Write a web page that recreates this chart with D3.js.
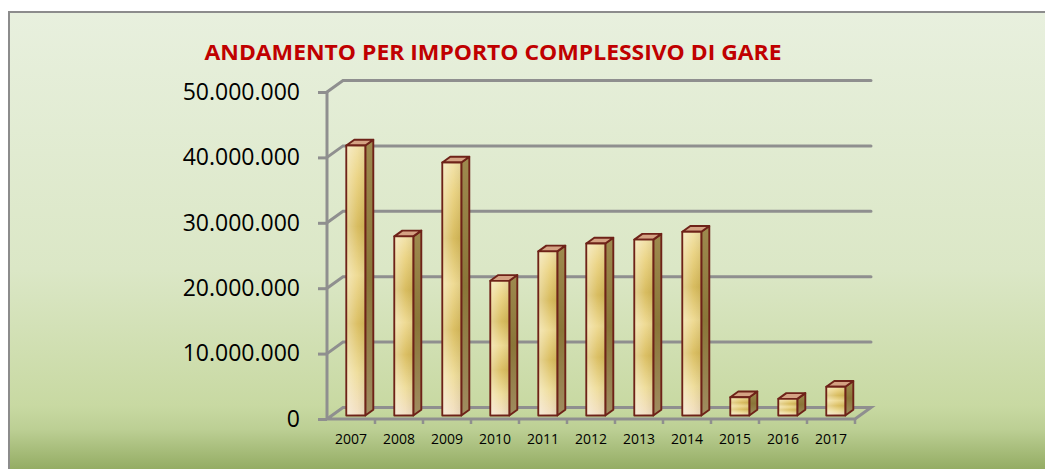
<!DOCTYPE html>
<html>
<head>
<meta charset="utf-8">
<script src="https://cdn.jsdelivr.net/npm/d3@7"></script>
<style>
  body { margin: 0; background: #fff; }
  svg { display: block; font-family: "Open Sans", sans-serif; }
</style>
</head>
<body>
<svg width="1045" height="469"></svg>
<script>
// data
const years = ["2007","2008","2009","2010","2011","2012","2013","2014","2015","2016","2017"];
const importi = [41300000, 27400000, 38700000, 20600000, 25100000, 26300000, 26900000, 28100000, 2800000, 2550000, 4400000];
const yTicks = [0, 10000000, 20000000, 30000000, 40000000, 50000000];
const titolo = "ANDAMENTO PER IMPORTO COMPLESSIVO DI GARE";

let svg = d3.select("svg");
let width = +svg.attr("width");
let height = +svg.attr("height");

// 3d depth of the plot box
const depthX = 16, depthY = -11.5;
const barF0 = 0.3, barF1 = 0.8;   // bar front / back plane as fraction of depth

const it = d3.formatLocale({decimal: ",", thousands: ".", grouping: [3], currency: ["", "€"]});
const fmt = it.format(",d");

const x = d3.scaleBand().domain(years).range([327, 855]).padding(0);
const y = d3.scaleLinear().domain([0, 50000000]).range([419, 92]);

const defs = svg.append("defs");
let bg = defs.append("linearGradient").attr("id", "bg").attr("x1", 0).attr("y1", 0).attr("x2", 0).attr("y2", 1);
bg.append("stop").attr("offset", "0%").attr("stop-color", "#e8f0de");
bg.append("stop").attr("offset", "55%").attr("stop-color", "#dbe7c6");
bg.append("stop").attr("offset", "84%").attr("stop-color", "#c8d9a2");
bg.append("stop").attr("offset", "89%").attr("stop-color", "#bccf94");
bg.append("stop").attr("offset", "100%").attr("stop-color", "#88a255");

let gold = defs.append("linearGradient").attr("id", "gold").attr("x1", 0).attr("y1", 0).attr("x2", 0).attr("y2", 1);
[["0%", "#f1e1a6"], ["12%", "#ead27f"], ["30%", "#d6b958"], ["48%", "#eed98f"], ["66%", "#d9bc5c"],
 ["84%", "#eedc98"], ["100%", "#f2dfc4"]].forEach(s =>
  gold.append("stop").attr("offset", s[0]).attr("stop-color", s[1]));

let shine = defs.append("linearGradient").attr("id", "shine").attr("x1", 0).attr("y1", 0).attr("x2", 1).attr("y2", 0);
shine.append("stop").attr("offset", "0%").attr("stop-color", "#fff").attr("stop-opacity", 0.35);
shine.append("stop").attr("offset", "60%").attr("stop-color", "#fff").attr("stop-opacity", 0.05);
shine.append("stop").attr("offset", "100%").attr("stop-color", "#000").attr("stop-opacity", 0.05);

let side = defs.append("linearGradient").attr("id", "side").attr("x1", 0).attr("y1", 0).attr("x2", 0).attr("y2", 1);
side.append("stop").attr("offset", "0%").attr("stop-color", "#9e8a4f");
side.append("stop").attr("offset", "50%").attr("stop-color", "#8a7638");
side.append("stop").attr("offset", "100%").attr("stop-color", "#a08c60");

// chart area background with frame
svg.append("rect")
    .attr("x", 9).attr("y", 12)
    .attr("width", width).attr("height", height)
    .attr("fill", "url(#bg)")
    .attr("stroke", "#8c8c8c")
    .attr("stroke-width", 2);

svg.append("text")
    .attr("x", 493).attr("y", 60)
    .attr("text-anchor", "middle")
    .attr("fill", "#c00000")
    .attr("font-weight", "bold")
    .attr("font-size", 21)
    .attr("textLength", 577)
    .attr("lengthAdjust", "spacingAndGlyphs")
    .text(titolo);

const gridColor = "#8f8f8f";
const x0 = x.range()[0], x1 = x.range()[1];

// back wall gridlines + left wall diagonals
let grid = svg.append("g").attr("class", "grid")
    .attr("stroke", gridColor).attr("stroke-width", 3).attr("fill", "none")
    .attr("stroke-linecap", "round");
grid.selectAll("path.g")
    .data(yTicks.filter(d => d > 0))
    .enter().append("path")
    .attr("d", d => `M${x0},${y(d)}L${x0 + depthX},${y(d) + depthY}L${x1 + depthX},${y(d) + depthY}`);

// floor
grid.append("path")
    .attr("d", `M${x0},${y(0)}L${x0 + depthX},${y(0) + depthY}L${x1 + depthX},${y(0) + depthY}L${x1},${y(0)}Z`);

// left axis with ticks and labels
let yAxis = svg.append("g")
    .attr("transform", `translate(${x0},0)`)
    .call(d3.axisLeft(y).tickValues(yTicks).tickFormat(fmt).tickSize(9).tickPadding(18));
yAxis.select(".domain").attr("stroke", gridColor).attr("stroke-width", 3)
    .attr("d", `M0,${y(50000000)}V${y(0)}`);
yAxis.selectAll(".tick line").attr("stroke", gridColor).attr("stroke-width", 3);
yAxis.selectAll(".tick text")
    .attr("font-family", "Open Sans").attr("font-size", 23).attr("fill", "#000");

// bottom axis ticks and labels
let xAxis = svg.append("g")
    .attr("transform", `translate(0,${y(0)})`)
    .call(d3.axisBottom(x).tickSize(0).tickPadding(15));
xAxis.select(".domain").remove();
xAxis.selectAll(".tick text")
    .attr("font-family", "Open Sans").attr("font-size", 14).attr("fill", "#000");
svg.append("g").selectAll("line")
    .data(years)
    .enter().append("line")
    .attr("x1", d => x(d) + x.bandwidth()).attr("x2", d => x(d) + x.bandwidth())
    .attr("y1", y(0)).attr("y2", y(0) + 5)
    .attr("stroke", gridColor).attr("stroke-width", 2.5);

// 3d bars
const barW = 19;
const ox0 = barF0 * depthX, oy0 = barF0 * depthY;
const ddx = (barF1 - barF0) * depthX, ddy = (barF1 - barF0) * depthY;
let bars = svg.append("g").attr("class", "bars")
    .selectAll("g")
    .data(years.map((d, i) => ({year: d, v: importi[i]})))
    .enter().append("g")
    .attr("stroke", "#6e2218").attr("stroke-width", 1.9).attr("stroke-linejoin", "round");

const bx = d => x(d.year) + x.bandwidth() / 2 - barW / 2 + ox0;
const btop = d => y(d.v) + oy0;
const bbot = () => y(0) + oy0;

bars.append("path")
    .attr("fill", "url(#side)")
    .attr("d", d => `M${bx(d) + barW},${btop(d)}l${ddx},${ddy}L${bx(d) + barW + ddx},${bbot() + ddy}L${bx(d) + barW},${bbot()}Z`);
bars.append("path")
    .attr("fill", "#d4a283")
    .attr("d", d => `M${bx(d)},${btop(d)}l${ddx},${ddy}h${barW}l${-ddx},${-ddy}Z`);
bars.append("rect")
    .attr("fill", "url(#gold)")
    .attr("x", bx).attr("y", btop)
    .attr("width", barW).attr("height", d => bbot() - btop(d));
bars.append("rect")
    .attr("fill", "url(#shine)").attr("stroke", "none")
    .attr("x", d => bx(d) + 1).attr("y", d => btop(d) + 1)
    .attr("width", barW - 2).attr("height", d => Math.max(0, bbot() - btop(d) - 2));
</script>
</body>
</html>
